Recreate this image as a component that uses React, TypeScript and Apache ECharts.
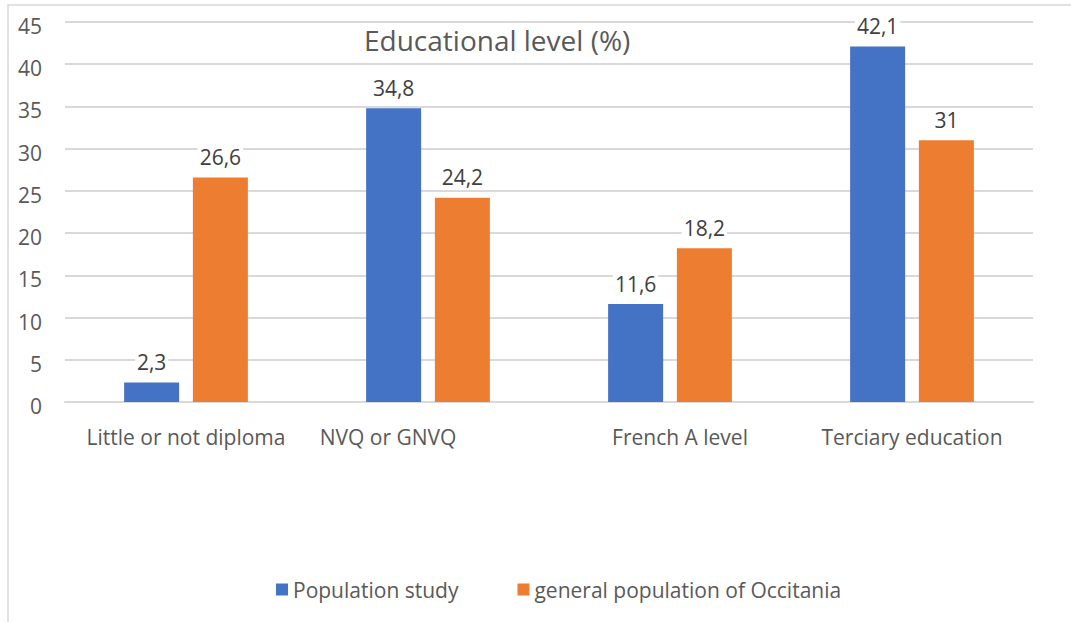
import React, { useEffect, useRef } from "react";
import * as echarts from "echarts";

const categories = ["Little or not diploma", "NVQ or GNVQ", "French A level", "Terciary education"];
const populationStudy = [2.3, 34.8, 11.6, 42.1];
const occitania = [26.6, 24.2, 18.2, 31];
const seriesNames = ["Population study", "general population of Occitania"];
const yTicks = { min: 0, max: 45, interval: 5 };
const chartTitle = "Educational level (%)";

const FONT = "'Open Sans', sans-serif";
const GREY = "#595959";
const FS = 21;

export default function App() {
  const ref = useRef<HTMLDivElement>(null);
  useEffect(() => {
    if (!ref.current) return;
    const chart = echarts.init(ref.current, null, { renderer: "svg" });
    const labelCfg = {
      show: true,
      position: "top",
      distance: 10,
      color: "#404040",
      fontSize: FS,
      fontFamily: FONT,
      backgroundColor: "#ffffff",
      padding: [0, 2],
      formatter: (p: any) => String(p.value).replace(".", ","),
    };
    chart.setOption({
      animation: false,
      backgroundColor: "#ffffff",
      textStyle: { fontFamily: FONT },
      title: {
        text: chartTitle,
        left: 359,
        top: 21,
        textStyle: { fontSize: 28, fontWeight: "normal", color: GREY, fontFamily: FONT },
      },
      graphic: [
        {
          type: "rect",
          shape: { x: 8, y: 5, width: 1200, height: 800 },
          style: { fill: "none", stroke: "#d9d9d9", lineWidth: 1.5 },
          silent: true,
          z: -1,
        },
      ],
      legend: {
        left: 271,
        top: 574,
        itemWidth: 12,
        itemHeight: 12,
        itemGap: 59,
        icon: "rect",
        textStyle: { fontSize: FS, color: GREY, fontFamily: FONT },
        data: seriesNames,
      },
      grid: { left: 65, right: 38, top: 22, bottom: 220 },
      xAxis: {
        type: "category",
        data: categories,
        axisTick: { show: false },
        axisLine: { lineStyle: { color: "#d9d9d9", width: 2 } },
        axisLabel: {
          margin: 24,
          fontSize: FS,
          color: GREY,
          fontFamily: FONT,
          interval: 0,
          formatter: (value: string, index: number) =>
            index === 1 ? `{l|${value}}` : index === 2 ? `{r|${value}}` : value,
          rich: {
            l: { padding: [0, 80, 0, 0], fontSize: FS, color: GREY, fontFamily: FONT },
            r: { padding: [0, 0, 0, 20], fontSize: FS, color: GREY, fontFamily: FONT },
          },
        },
      },
      yAxis: {
        type: "value",
        min: yTicks.min,
        max: yTicks.max,
        interval: yTicks.interval,
        axisLine: { show: false },
        axisTick: { show: false },
        axisLabel: {
          margin: 23,
          fontSize: FS,
          color: GREY,
          fontFamily: FONT,
          formatter: (v: number) => `{t|${v}}`,
          rich: { t: { padding: [8, 0, 0, 0], fontSize: FS, color: GREY, fontFamily: FONT } },
        },
        splitLine: { lineStyle: { color: "#d9d9d9", width: 2 } },
      },
      series: [
        {
          name: seriesNames[0],
          type: "bar",
          data: populationStudy,
          barWidth: 55,
          barGap: "25%",
          itemStyle: { color: "#4472C4" },
          label: labelCfg,
        },
        {
          name: seriesNames[1],
          type: "bar",
          data: occitania,
          barWidth: 55,
          barGap: "25%",
          itemStyle: { color: "#ED7D31" },
          label: labelCfg,
        },
      ],
    });
    return () => chart.dispose();
  }, []);
  return (
    <div
      ref={ref}
      style={{ position: "fixed", left: 0, top: 0, width: 1071, height: 622, background: "#fff" }}
    />
  );
}
